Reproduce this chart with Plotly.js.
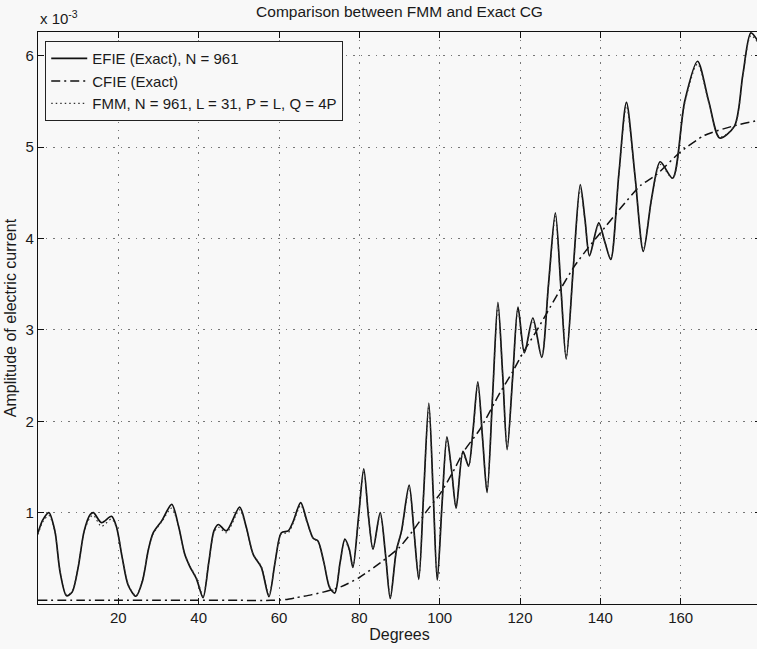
<!DOCTYPE html>
<html>
<head>
<meta charset="utf-8">
<script src="https://cdn.plot.ly/plotly-3.0.1.min.js"></script>
<style>html,body{margin:0;padding:0;overflow:hidden;background:#f8f8f8;}</style>
</head>
<body>
<div id="chart"></div>
<script>
// Degrees (x) and amplitudes in units of 1e-3
const efieDeg = [0,1.2,2.7,4.2,5.5,7.1,8.5,10,11.5,13.0,13.8,15.8,18.3,19.5,21,22.5,24.4,26,27.5,28.7,30.8,33.3,35,36.5,37.8,39.5,41.1,42.5,43.8,44.9,46.9,50.2,51.8,53.6,55.6,57.5,59,60.6,62.3,63.5,65.4,67,68.5,69.7,71.2,72.6,73.9,75.2,76.4,77.5,78.4,79.8,81.1,82.3,83.4,85.2,86.5,87.7,89.2,90.5,92.4,93.6,94.8,96.0,97.3,98.4,99.4,100.6,101.8,103.0,104.1,105.8,107.2,108.3,109.5,110.7,111.8,113.2,114.5,115.7,116.8,118.2,119.5,121.1,123.2,125.4,127.1,128.8,130.2,131.5,133.3,135.0,136.2,137.3,139.6,141.2,142.6,144.6,146.5,148.6,150.7,152.8,154.9,158.0,161.0,164.2,167.0,169.7,173.4,175.5,177.5,180];
const efieVal = [0.78,0.92,1.00,0.80,0.35,0.09,0.13,0.40,0.80,0.98,1.00,0.89,0.96,0.85,0.50,0.20,0.085,0.25,0.60,0.78,0.91,1.09,0.85,0.55,0.41,0.27,0.07,0.45,0.80,0.87,0.80,1.06,0.85,0.54,0.40,0.08,0.45,0.78,0.80,0.90,1.11,0.90,0.72,0.69,0.45,0.18,0.12,0.45,0.71,0.60,0.40,0.95,1.48,0.95,0.60,1.00,0.55,0.06,0.58,0.80,1.30,0.80,0.27,1.20,2.20,1.20,0.26,1.10,1.83,1.45,1.05,1.67,1.51,1.90,2.43,1.80,1.22,2.30,3.30,2.50,1.69,2.50,3.25,2.75,3.13,2.70,3.50,4.28,3.45,2.68,3.70,4.59,4.20,3.81,4.17,3.95,3.77,4.70,5.49,4.70,3.86,4.45,4.84,4.66,5.50,5.94,5.50,5.10,5.23,5.80,6.25,6.10];

const fmmDeg = efieDeg;
const fmmVal = [0.76,0.90,0.97,0.79,0.36,0.10,0.14,0.41,0.79,0.95,0.97,0.85,0.93,0.84,0.50,0.21,0.09,0.26,0.60,0.77,0.90,1.05,0.84,0.55,0.42,0.28,0.09,0.45,0.78,0.84,0.78,1.03,0.84,0.54,0.41,0.10,0.45,0.77,0.78,0.88,1.08,0.89,0.72,0.68,0.45,0.19,0.14,0.45,0.69,0.59,0.41,0.95,1.45,0.95,0.61,0.98,0.55,0.08,0.58,0.79,1.27,0.80,0.29,1.20,2.16,1.20,0.28,1.10,1.80,1.44,1.06,1.65,1.51,1.89,2.40,1.80,1.24,2.30,3.26,2.50,1.71,2.50,3.22,2.75,3.10,2.71,3.49,4.24,3.45,2.70,3.69,4.55,4.19,3.82,4.15,3.95,3.78,4.69,5.45,4.69,3.88,4.44,4.81,4.66,5.48,5.91,5.49,5.11,5.23,5.79,6.22,6.09];

const cfieDeg = [0,10,20,30,40,50,58,62,64.3,68,71,75.5,80,85.8,90,93.3,97,100,103,106,110,115,118,121,124,126.5,130,133.6,137,140,145,150,154,160,166,173,180];
const cfieVal = [0.04,0.04,0.04,0.04,0.04,0.04,0.04,0.05,0.07,0.10,0.13,0.19,0.29,0.47,0.62,0.80,1.03,1.20,1.42,1.67,1.91,2.31,2.53,2.77,2.98,3.17,3.44,3.70,3.90,4.06,4.33,4.58,4.70,4.95,5.13,5.23,5.30];

const xTicks = [20,40,60,80,100,120,140,160];
const yTicks = [1,2,3,4,5,6];
const yTickText = ['1','2','3','4','5','6'];

const fontFam = 'Liberation Sans, Arial, sans-serif';
const txt = '#1a1a1a';

const traces = [
  {x: efieDeg, y: efieVal, name: 'EFIE (Exact), N = 961', mode: 'lines',
   line: {color: '#111', width: 1.7, shape: 'spline', smoothing: 0.8}},
  {x: cfieDeg, y: cfieVal, name: 'CFIE (Exact)', mode: 'lines',
   line: {color: '#111', width: 1.5, dash: '9px,4px,2px,4px', shape: 'spline', smoothing: 0.6}},
  {x: fmmDeg, y: fmmVal, name: 'FMM, N = 961, L = 31, P = L, Q = 4P', mode: 'lines',
   line: {color: '#333', width: 1.2, dash: '1.5px,3px', shape: 'spline', smoothing: 0.8}}
];

const axisCommon = {
  showline: true, mirror: 'ticks', linecolor: '#111', linewidth: 1.2,
  ticks: 'inside', ticklen: 6, tickcolor: '#111',
  showgrid: true, gridcolor: '#777', griddash: '1.5px,6px', gridwidth: 1,
  zeroline: false, tickfont: {family: fontFam, size: 15, color: txt}
};

const layout = {
  width: 770, height: 649,
  margin: {l: 38, r: 9, t: 32, b: 45},
  paper_bgcolor: '#f8f8f8', plot_bgcolor: '#f8f8f8',
  font: {family: fontFam, size: 15, color: txt},
  title: {text: 'Comparison between FMM and Exact CG', x: 0.5, xref: 'paper',
          y: 1 - 12/649, yref: 'container', yanchor: 'middle',
          font: {family: fontFam, size: 15.5, color: txt}},
  xaxis: Object.assign({}, axisCommon, {range: [0, 180], tickvals: xTicks,
          title: {text: 'Degrees', standoff: 2, font: {family: fontFam, size: 16, color: txt}}}),
  yaxis: Object.assign({}, axisCommon, {range: [0, 6.26], tickvals: yTicks, ticktext: yTickText,
          title: {text: 'Amplitude of electric current', standoff: 4, font: {family: fontFam, size: 16, color: txt}}}),
  showlegend: true,
  legend: {x: 0.01, y: 0.984, xanchor: 'left', yanchor: 'top', bgcolor: '#f8f8f8',
           bordercolor: '#222', borderwidth: 1, font: {family: fontFam, size: 15, color: txt},
           tracegroupgap: 0, itemwidth: 36, entrywidth: 280, entrywidthmode: 'pixels'},
  annotations: [{text: 'x 10<sup>-3</sup>', xref: 'paper', yref: 'paper', x: 0, y: 1,
                 xanchor: 'left', yanchor: 'bottom', yshift: 3, xshift: 0, showarrow: false,
                 font: {family: fontFam, size: 15, color: txt}}]
};

Plotly.newPlot('chart', traces, layout, {displayModeBar: false, staticPlot: true});
</script>
</body>
</html>
